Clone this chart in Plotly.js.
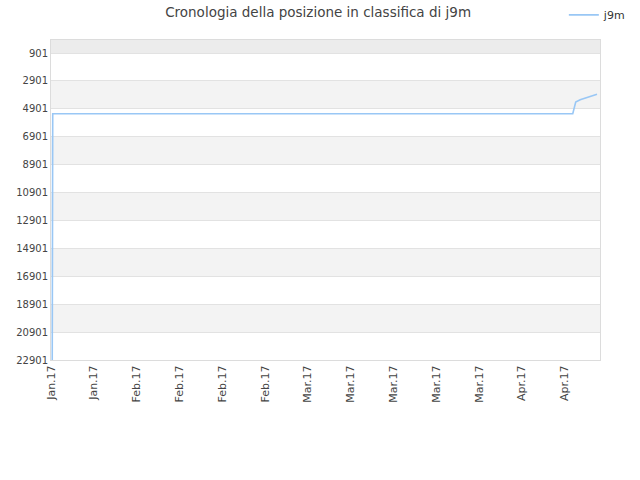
<!DOCTYPE html>
<html>
<head>
<meta charset="utf-8">
<script src="https://cdn.plot.ly/plotly-3.0.1.min.js"></script>
<style>
  html, body { margin: 0; padding: 0; background: #fff; }
  #chart { width: 640px; height: 480px; }
</style>
</head>
<body>
<div id="chart"></div>
<script>
// rank history of j9m (lower = better)
const dates = [
  '2017-01-18 12:00', '2017-01-18 14:00',
  '2017-04-16 01:00', '2017-04-16 07:00', '2017-04-16 13:00',
  '2017-04-17 07:00', '2017-04-18 01:00', '2017-04-18 19:00',
  '2017-04-19 13:00', '2017-04-20 03:00'
];
const ranks = [22901, 5250, 5250, 4700, 4420, 4250, 4150, 4060, 3950, 3860];

const yTicks = [901, 2901, 4901, 6901, 8901, 10901, 12901, 14901, 16901, 18901, 20901, 22901];
const yTop = -31;
const xStart = '2017-01-18 07:00';
const xEnd = '2017-04-20 15:00';
const seriesName = 'j9m';

// alternating bands between grid lines
const shapes = [];
const edges = [yTop].concat(yTicks);
for (let i = 0; i < edges.length - 1; i++) {
  if (i % 2 === 1) continue;
  shapes.push({
    type: 'rect', xref: 'paper', yref: 'y', layer: 'below',
    x0: 0, x1: 1, y0: edges[i], y1: edges[i + 1],
    fillcolor: i === 0 ? '#ececec' : '#f3f3f3', line: { width: 0 }
  });
}

const trace = {
  x: dates, y: ranks, name: seriesName,
  type: 'scatter', mode: 'lines',
  line: { color: '#99c7f5', width: 1.6 }
};

const layout = {
  width: 640, height: 480,
  margin: { l: 51, r: 40, t: 40, b: 120, autoexpand: false },
  paper_bgcolor: '#fff', plot_bgcolor: '#fff',
  font: { family: 'DejaVu Sans, sans-serif', size: 11, color: '#444' },
  title: {
    text: 'Cronologia della posizione in classifica di j9m',
    font: { size: 13.5, color: '#444' },
    x: 0.497, xanchor: 'center', y: 0.975, yanchor: 'middle'
  },
  showlegend: true,
  legend: {
    xref: 'container', yref: 'container',
    x: 0.881, y: 0.969, xanchor: 'left', yanchor: 'middle',
    itemwidth: 30, font: { size: 11, color: '#333' }, bgcolor: 'rgba(0,0,0,0)'
  },
  xaxis: {
    type: 'date',
    range: [xStart, xEnd],
    tick0: xStart, dtick: 7.2 * 86400000,
    tickformat: '%b.%y', tickangle: -90,
    tickfont: { size: 11, color: '#444' },
    showgrid: false, zeroline: false,
    showline: true, linecolor: '#dcdcdc', mirror: true, ticks: ''
  },
  yaxis: {
    range: [yTicks[yTicks.length - 1], yTop],
    tickvals: yTicks, ticktext: yTicks.map(String),
    tickfont: { size: 10, color: '#444' },
    gridcolor: '#e2e2e2', zeroline: false,
    showline: true, linecolor: '#dcdcdc', mirror: true, ticks: ''
  },
  shapes: shapes
};

Plotly.newPlot('chart', [trace], layout, { displayModeBar: false, staticPlot: true });
</script>
</body>
</html>
